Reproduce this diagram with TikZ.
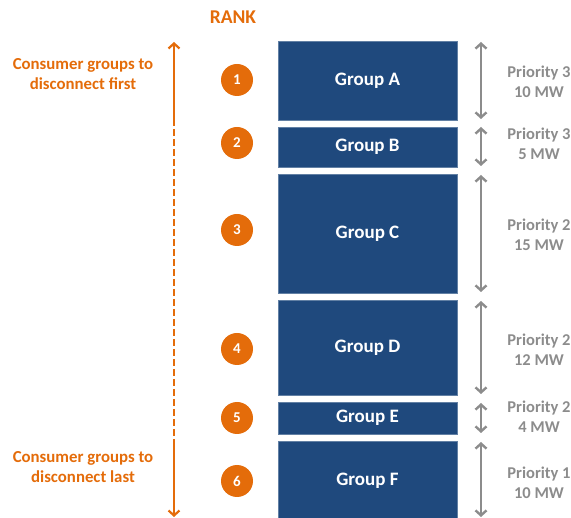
\documentclass[tikz,border=0pt]{standalone}
\usepackage{fontspec}
\setmainfont{Carlito}
\usetikzlibrary{arrows.meta}
\definecolor{rankorange}{HTML}{E46C0A}
\definecolor{groupblue}{HTML}{1F497D}
\definecolor{arrowgray}{HTML}{8C8C8C}
\definecolor{labelgray}{HTML}{8C8C8C}
\tikzset{
  grp/.style={fill=groupblue, draw=groupblue!70!white, line width=0.6pt, inner sep=0pt,
    minimum width=179pt, text=white, font=\fontsize{19}{22}\selectfont\bfseries},
  rankdot/.style={circle, fill=rankorange, minimum size=32pt, inner sep=0pt,
    text=white, font=\fontsize{15}{17}\selectfont\bfseries},
  side/.style={text=rankorange, align=center, font=\fontsize{16.8}{20}\selectfont\bfseries},
  prio/.style={text=labelgray, align=center, font=\fontsize{16.5}{20}\selectfont\bfseries},
  span/.style={draw=arrowgray, line width=2.6pt,
    {Straight Barb[length=5pt,width=11pt,line width=2.4pt]}-{Straight Barb[length=5pt,width=11pt,line width=2.4pt]}},
  orangeline/.style={draw=rankorange, line width=2.4pt},
  orangetip/.style={-{Straight Barb[length=5pt,width=11pt,line width=2.2pt]}}
}
\begin{document}
\begin{tikzpicture}[x=1pt,y=-1pt]
\useasboundingbox (0,0) rectangle (571,518);

% title
\node[text=rankorange, font=\fontsize{19.5}{22}\selectfont\bfseries] (rank) at (233,17) {RANK};

% consumer groups
\node[grp, minimum height=79pt] (A) at (367.5,80.5) {Group A};
\node[grp, minimum height=40pt] (B) at (367.5,147) {Group B};
\node[grp, minimum height=119pt] (C) at (367.5,233.5) {Group C};
\node[grp, minimum height=95pt] (D) at (367.5,347.5) {Group D};
\node[grp, minimum height=32pt] (E) at (367.5,418) {Group E};
\node[grp, minimum height=79pt] (F) at (367.5,480.5) {Group F};

% rank markers
\node[rankdot] (r1) at (237,80) {1};
\node[rankdot] (r2) at (237,143) {2};
\node[rankdot] (r3) at (237,230) {3};
\node[rankdot] (r4) at (237,349) {4};
\node[rankdot] (r5) at (237,418) {5};
\node[rankdot] (r6) at (237,481) {6};

% priority / size labels
\node[prio] (pA) at (539,82) {Priority 3\\10 MW};
\node[prio] (pB) at (539,144) {Priority 3\\5 MW};
\node[prio] (pC) at (539,235) {Priority 2\\15 MW};
\node[prio] (pD) at (539,350) {Priority 2\\12 MW};
\node[prio] (pE) at (539,417) {Priority 2\\4 MW};
\node[prio] (pF) at (539,483) {Priority 1\\10 MW};

% span arrows beside each group
\coordinate (sA1) at (481,42);  \coordinate (sA2) at (481,119);
\coordinate (sB1) at (481,127); \coordinate (sB2) at (481,166);
\coordinate (sC1) at (481,175); \coordinate (sC2) at (481,292);
\coordinate (sD1) at (481,301); \coordinate (sD2) at (481,394);
\coordinate (sE1) at (481,403); \coordinate (sE2) at (481,433);
\coordinate (sF1) at (481,442); \coordinate (sF2) at (481,517);
\draw[span] (sA1) -- (sA2);
\draw[span] (sB1) -- (sB2);
\draw[span] (sC1) -- (sC2);
\draw[span] (sD1) -- (sD2);
\draw[span] (sE1) -- (sE2);
\draw[span] (sF1) -- (sF2);

% ranking axis
\coordinate (top) at (174,42);
\coordinate (dashstart) at (174,119);
\coordinate (dashend) at (174,443);
\coordinate (bottom) at (174,517);
\draw[orangeline, orangetip] (dashstart) -- (top);
\draw[orangeline, dash pattern=on 7pt off 3pt] (dashstart) -- (dashend);
\draw[orangeline, orangetip] (dashend) -- (bottom);

% axis captions
\node[side] (first) at (83,74) {Consumer groups to\\disconnect first};
\node[side] (last) at (83,467) {Consumer groups to\\disconnect last};
\end{tikzpicture}
\end{document}
